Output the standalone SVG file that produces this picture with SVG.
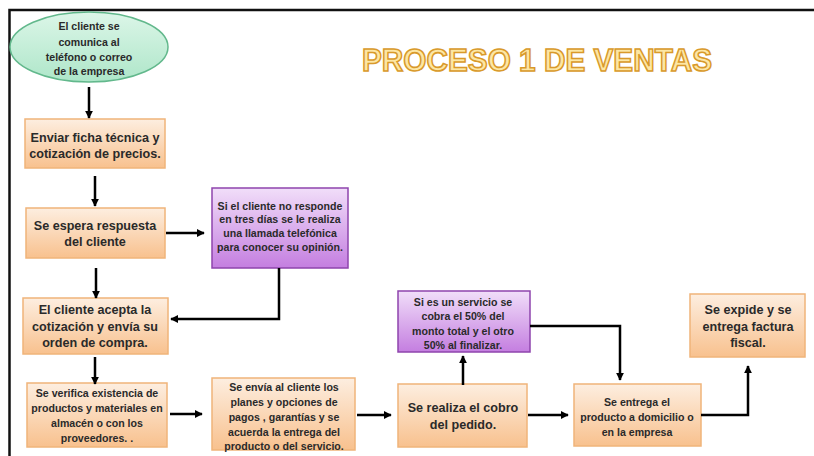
<svg xmlns="http://www.w3.org/2000/svg" width="814" height="456" viewBox="0 0 814 456">
<defs>
<linearGradient id="gO" x1="0" y1="0" x2="0" y2="1">
<stop offset="0" stop-color="#fdeee0"/>
<stop offset="1" stop-color="#f8c18e"/>
</linearGradient>
<linearGradient id="gP" x1="0" y1="0" x2="0" y2="1">
<stop offset="0" stop-color="#f1def9"/>
<stop offset="1" stop-color="#c47ee0"/>
</linearGradient>
<linearGradient id="gG" x1="0" y1="0" x2="0" y2="1">
<stop offset="0" stop-color="#dcf6e8"/>
<stop offset="1" stop-color="#aee6c9"/>
</linearGradient>
<marker id="ah" viewBox="0 0 10 10" refX="9" refY="5" markerWidth="3.2" markerHeight="3.2" orient="auto" markerUnits="strokeWidth">
<path d="M0 0 L10 5 L0 10 z" fill="#000"/>
</marker>
<style>
.o{fill:url(#gO);stroke:#f0b47a;stroke-width:1.5}
.p{fill:url(#gP);stroke:#8e44ad;stroke-width:1.5}
.t{font-family:"Liberation Sans",Arial,sans-serif;font-weight:bold;fill:#2a2a2a;text-anchor:middle}
.s{font-size:10.6px}
.m{font-size:12.6px}
.c{fill:none;stroke:#000;stroke-width:2.5;marker-end:url(#ah)}
</style>
</defs>
<rect width="814" height="456" fill="#fff"/>
<path d="M9.5 456 V10 H814" fill="none" stroke="#111" stroke-width="2.5"/>
<text x="537" y="71" font-family="'Liberation Sans',Arial,sans-serif" font-weight="bold" font-size="32" textLength="350" lengthAdjust="spacingAndGlyphs" text-anchor="middle" fill="#fde7a4" stroke="#d99a2b" stroke-width="1.6">PROCESO 1 DE VENTAS</text>

<g id="n1">
<ellipse cx="89" cy="47" rx="79" ry="35" fill="url(#gG)" stroke="#62b88c" stroke-width="1.5"/>
<text class="t s"><tspan x="89" y="30">El cliente se</tspan><tspan x="89" y="46">comunica al</tspan><tspan x="89" y="61">teléfono o correo</tspan><tspan x="89" y="75">de la empresa</tspan></text>
</g>
<g id="n2">
<rect class="o" x="25" y="119" width="140" height="49"/>
<text class="t m"><tspan x="95" y="142">Enviar  ficha técnica y</tspan><tspan x="95" y="158">cotización de precios.</tspan></text>
</g>
<g id="n3">
<rect class="o" x="26" y="208" width="139" height="50"/>
<text class="t m"><tspan x="95" y="230">Se espera respuesta</tspan><tspan x="95" y="246">del cliente</tspan></text>
</g>
<g id="n4">
<rect class="p" x="212" y="188" width="136" height="80"/>
<text class="t s"><tspan x="280" y="210">Si el cliente no responde</tspan><tspan x="280" y="223">en tres días se le realiza</tspan><tspan x="280" y="237">una llamada telefónica</tspan><tspan x="280" y="251">para conocer su opinión.</tspan></text>
</g>
<g id="n5">
<rect class="o" x="23" y="298" width="145" height="56"/>
<text class="t m"><tspan x="95" y="314">El cliente acepta la</tspan><tspan x="95" y="331">cotización y envía su</tspan><tspan x="95" y="347">orden de compra.</tspan></text>
</g>
<g id="n6">
<rect class="o" x="27" y="383" width="140" height="64"/>
<text class="t s"><tspan x="97" y="397">Se verifica existencia de</tspan><tspan x="97" y="412">productos y materiales en</tspan><tspan x="97" y="427">almacén o con los</tspan><tspan x="97" y="442">proveedores. .</tspan></text>
</g>
<g id="n7">
<rect class="o" x="212" y="378" width="143" height="72"/>
<text class="t s"><tspan x="284" y="391">Se envía al cliente los</tspan><tspan x="284" y="406">planes y opciones de</tspan><tspan x="284" y="421">pagos , garantías y se</tspan><tspan x="284" y="436">acuerda la entrega del</tspan><tspan x="284" y="450">producto o del servicio.</tspan></text>
</g>
<g id="n8">
<rect class="o" x="398" y="384" width="129" height="63"/>
<text class="t m"><tspan x="463" y="412">Se realiza el cobro</tspan><tspan x="463" y="429">del pedido.</tspan></text>
</g>
<g id="n9">
<rect class="p" x="398" y="291" width="132" height="61"/>
<text class="t s"><tspan x="463" y="306">Si es un servicio se</tspan><tspan x="463" y="320">cobra el 50% del</tspan><tspan x="463" y="335">monto total y el otro</tspan><tspan x="463" y="349">50% al finalizar.</tspan></text>
</g>
<g id="n10">
<rect class="o" x="574" y="384" width="127" height="62"/>
<text class="t s"><tspan x="637" y="406">Se entrega el</tspan><tspan x="637" y="421">producto a domicilio o</tspan><tspan x="637" y="436">en la empresa</tspan></text>
</g>
<g id="n11">
<rect class="o" x="690" y="294" width="115" height="63"/>
<text class="t m"><tspan x="748" y="314">Se expide y se</tspan><tspan x="748" y="331">entrega factura</tspan><tspan x="748" y="347">fiscal.</tspan></text>
</g>

<g id="connectors">
<path class="c" d="M89 87 V118"/>
<path class="c" d="M95 176 V206"/>
<path class="c" d="M166 233 H204"/>
<path class="c" d="M279 268 V319 H171"/>
<path class="c" d="M96 268 V298"/>
<path class="c" d="M95 357 V384"/>
<path class="c" d="M170 414 H202"/>
<path class="c" d="M357 415 H391"/>
<path class="c" d="M463 385 V356"/>
<path class="c" d="M528 415 H568"/>
<path class="c" d="M530 326 H620 V380"/>
<path class="c" d="M701 415 H748 V366"/>
</g>
</svg>
